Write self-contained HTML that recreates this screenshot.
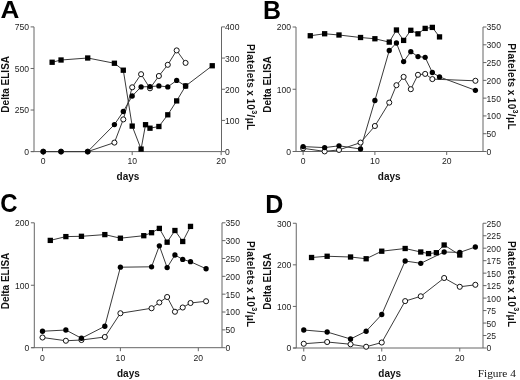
<!DOCTYPE html>
<html><head><meta charset="utf-8"><title>Figure 4</title>
<style>
html,body{margin:0;padding:0;background:#fff;}
body{width:520px;height:380px;overflow:hidden;font-family:"Liberation Sans",sans-serif;}
svg{display:block;filter:grayscale(1);}
</style></head><body>
<svg width="520" height="380" viewBox="0 0 520 380">
<rect width="520" height="380" fill="#fff"/>
<line x1="34" y1="26.9" x2="34" y2="151.6" stroke="#666666" stroke-width="1"/>
<line x1="221.5" y1="26.9" x2="221.5" y2="151.6" stroke="#666666" stroke-width="1"/>
<line x1="31" y1="151.6" x2="221.5" y2="151.6" stroke="#666666" stroke-width="1"/>
<line x1="30.6" y1="151.6" x2="34" y2="151.6" stroke="#666666" stroke-width="1"/>
<text x="29" y="155.05" font-size="8.6" text-anchor="end" font-weight="normal" fill="#1c1c1c" font-family="Liberation Sans, sans-serif">0</text>
<line x1="30.6" y1="110.03" x2="34" y2="110.03" stroke="#666666" stroke-width="1"/>
<text x="29" y="113.48" font-size="8.6" text-anchor="end" font-weight="normal" fill="#1c1c1c" font-family="Liberation Sans, sans-serif">250</text>
<line x1="30.6" y1="68.47" x2="34" y2="68.47" stroke="#666666" stroke-width="1"/>
<text x="29" y="71.92" font-size="8.6" text-anchor="end" font-weight="normal" fill="#1c1c1c" font-family="Liberation Sans, sans-serif">500</text>
<line x1="30.6" y1="26.9" x2="34" y2="26.9" stroke="#666666" stroke-width="1"/>
<text x="29" y="30.35" font-size="8.6" text-anchor="end" font-weight="normal" fill="#1c1c1c" font-family="Liberation Sans, sans-serif">750</text>
<line x1="221.5" y1="151.6" x2="225" y2="151.6" stroke="#666666" stroke-width="1"/>
<text x="225.1" y="155.05" font-size="8.6" text-anchor="start" font-weight="normal" fill="#1c1c1c" font-family="Liberation Sans, sans-serif">0</text>
<line x1="221.5" y1="120.42" x2="225" y2="120.42" stroke="#666666" stroke-width="1"/>
<text x="225.1" y="123.88" font-size="8.6" text-anchor="start" font-weight="normal" fill="#1c1c1c" font-family="Liberation Sans, sans-serif">100</text>
<line x1="221.5" y1="89.25" x2="225" y2="89.25" stroke="#666666" stroke-width="1"/>
<text x="225.1" y="92.7" font-size="8.6" text-anchor="start" font-weight="normal" fill="#1c1c1c" font-family="Liberation Sans, sans-serif">200</text>
<line x1="221.5" y1="58.07" x2="225" y2="58.07" stroke="#666666" stroke-width="1"/>
<text x="225.1" y="61.52" font-size="8.6" text-anchor="start" font-weight="normal" fill="#1c1c1c" font-family="Liberation Sans, sans-serif">300</text>
<line x1="221.5" y1="26.9" x2="225" y2="26.9" stroke="#666666" stroke-width="1"/>
<text x="225.1" y="30.35" font-size="8.6" text-anchor="start" font-weight="normal" fill="#1c1c1c" font-family="Liberation Sans, sans-serif">400</text>
<line x1="43.25" y1="151.6" x2="43.25" y2="155.1" stroke="#666666" stroke-width="1"/>
<text x="43.25" y="163.8" font-size="8.6" text-anchor="middle" font-weight="normal" fill="#1c1c1c" font-family="Liberation Sans, sans-serif">0</text>
<line x1="132.2" y1="151.6" x2="132.2" y2="155.1" stroke="#666666" stroke-width="1"/>
<text x="132.2" y="163.8" font-size="8.6" text-anchor="middle" font-weight="normal" fill="#1c1c1c" font-family="Liberation Sans, sans-serif">10</text>
<line x1="221.15" y1="151.6" x2="221.15" y2="155.1" stroke="#666666" stroke-width="1"/>
<text x="221.15" y="163.8" font-size="8.6" text-anchor="middle" font-weight="normal" fill="#1c1c1c" font-family="Liberation Sans, sans-serif">20</text>
<text x="9.2" y="84.3" font-size="10" text-anchor="middle" font-weight="bold" fill="#111" font-family="Liberation Sans, sans-serif" transform="rotate(-90 9.2 84.3)">Delta ELISA</text>
<text x="246.6" y="87.3" font-size="10" letter-spacing="0.33" word-spacing="-0.9" text-anchor="middle" font-weight="bold" fill="#111" font-family="Liberation Sans, sans-serif" transform="rotate(90 246.6 87.3)">Platelets x 10<tspan font-size="7.2" dy="-5.2">3</tspan><tspan dy="5.2">/&#956;L</tspan></text>
<text x="128" y="180.3" font-size="10" text-anchor="middle" font-weight="bold" fill="#111" font-family="Liberation Sans, sans-serif">days</text>
<text x="0" y="0" font-size="24.4" text-anchor="start" font-weight="bold" fill="#000" font-family="Liberation Sans, sans-serif" transform="translate(0.45 17.7) scale(1.07 1)">A</text>
<polyline points="43.25,151.6 61.04,151.6 87.72,151.6 114.41,142.6 123.3,119.4 132.2,87.3 141.09,74.2 149.99,88.3 158.88,76 167.78,64.8 176.67,50.4 185.57,62.9" fill="none" stroke="#3a3a3a" stroke-width="1" stroke-linejoin="round"/>
<polyline points="43.25,151.6 61.04,151.6 87.72,151.6 114.41,124.6 123.3,111.5 132.2,96 141.09,86.9 149.99,86.6 158.88,85.9 167.78,86.9 176.67,80.4 185.57,86" fill="none" stroke="#3a3a3a" stroke-width="1" stroke-linejoin="round"/>
<polyline points="52.14,62.25 61.04,60 87.72,58 114.41,63.25 123.3,70.2 132.2,126.1 141.09,149.1 145.54,124.7 149.99,128.2 158.88,126.5 167.78,114.8 176.67,100.9 185.57,86 212.25,65.75" fill="none" stroke="#3a3a3a" stroke-width="1" stroke-linejoin="round"/>
<circle cx="43.25" cy="151.6" r="2.55" fill="#fff" stroke="#111" stroke-width="1"/>
<circle cx="61.04" cy="151.6" r="2.55" fill="#fff" stroke="#111" stroke-width="1"/>
<circle cx="87.72" cy="151.6" r="2.55" fill="#fff" stroke="#111" stroke-width="1"/>
<circle cx="114.41" cy="142.6" r="2.55" fill="#fff" stroke="#111" stroke-width="1"/>
<circle cx="123.3" cy="119.4" r="2.55" fill="#fff" stroke="#111" stroke-width="1"/>
<circle cx="132.2" cy="87.3" r="2.55" fill="#fff" stroke="#111" stroke-width="1"/>
<circle cx="141.09" cy="74.2" r="2.55" fill="#fff" stroke="#111" stroke-width="1"/>
<circle cx="149.99" cy="88.3" r="2.55" fill="#fff" stroke="#111" stroke-width="1"/>
<circle cx="158.88" cy="76" r="2.55" fill="#fff" stroke="#111" stroke-width="1"/>
<circle cx="167.78" cy="64.8" r="2.55" fill="#fff" stroke="#111" stroke-width="1"/>
<circle cx="176.67" cy="50.4" r="2.55" fill="#fff" stroke="#111" stroke-width="1"/>
<circle cx="185.57" cy="62.9" r="2.55" fill="#fff" stroke="#111" stroke-width="1"/>
<circle cx="43.25" cy="151.6" r="2.65" fill="#000"/>
<circle cx="61.04" cy="151.6" r="2.65" fill="#000"/>
<circle cx="87.72" cy="151.6" r="2.65" fill="#000"/>
<circle cx="114.41" cy="124.6" r="2.65" fill="#000"/>
<circle cx="123.3" cy="111.5" r="2.65" fill="#000"/>
<circle cx="132.2" cy="96" r="2.65" fill="#000"/>
<circle cx="141.09" cy="86.9" r="2.65" fill="#000"/>
<circle cx="149.99" cy="86.6" r="2.65" fill="#000"/>
<circle cx="158.88" cy="85.9" r="2.65" fill="#000"/>
<circle cx="167.78" cy="86.9" r="2.65" fill="#000"/>
<circle cx="176.67" cy="80.4" r="2.65" fill="#000"/>
<circle cx="185.57" cy="86" r="2.65" fill="#000"/>
<rect x="49.49" y="59.6" width="5.3" height="5.3" fill="#000"/>
<rect x="58.39" y="57.35" width="5.3" height="5.3" fill="#000"/>
<rect x="85.07" y="55.35" width="5.3" height="5.3" fill="#000"/>
<rect x="111.76" y="60.6" width="5.3" height="5.3" fill="#000"/>
<rect x="120.65" y="67.55" width="5.3" height="5.3" fill="#000"/>
<rect x="129.55" y="123.45" width="5.3" height="5.3" fill="#000"/>
<rect x="138.44" y="146.45" width="5.3" height="5.3" fill="#000"/>
<rect x="142.89" y="122.05" width="5.3" height="5.3" fill="#000"/>
<rect x="147.34" y="125.55" width="5.3" height="5.3" fill="#000"/>
<rect x="156.23" y="123.85" width="5.3" height="5.3" fill="#000"/>
<rect x="165.13" y="112.15" width="5.3" height="5.3" fill="#000"/>
<rect x="174.02" y="98.25" width="5.3" height="5.3" fill="#000"/>
<rect x="182.92" y="83.35" width="5.3" height="5.3" fill="#000"/>
<rect x="209.6" y="63.1" width="5.3" height="5.3" fill="#000"/>
<line x1="296" y1="27" x2="296" y2="151.5" stroke="#666666" stroke-width="1"/>
<line x1="483" y1="27" x2="483" y2="151.5" stroke="#666666" stroke-width="1"/>
<line x1="293" y1="151.5" x2="483" y2="151.5" stroke="#666666" stroke-width="1"/>
<line x1="292.6" y1="151.5" x2="296" y2="151.5" stroke="#666666" stroke-width="1"/>
<text x="291" y="154.95" font-size="8.6" text-anchor="end" font-weight="normal" fill="#1c1c1c" font-family="Liberation Sans, sans-serif">0</text>
<line x1="292.6" y1="89.25" x2="296" y2="89.25" stroke="#666666" stroke-width="1"/>
<text x="291" y="92.7" font-size="8.6" text-anchor="end" font-weight="normal" fill="#1c1c1c" font-family="Liberation Sans, sans-serif">100</text>
<line x1="292.6" y1="27" x2="296" y2="27" stroke="#666666" stroke-width="1"/>
<text x="291" y="30.45" font-size="8.6" text-anchor="end" font-weight="normal" fill="#1c1c1c" font-family="Liberation Sans, sans-serif">200</text>
<line x1="483" y1="151.5" x2="486.5" y2="151.5" stroke="#666666" stroke-width="1"/>
<text x="486.6" y="154.95" font-size="8.6" text-anchor="start" font-weight="normal" fill="#1c1c1c" font-family="Liberation Sans, sans-serif">0</text>
<line x1="483" y1="133.71" x2="486.5" y2="133.71" stroke="#666666" stroke-width="1"/>
<text x="486.6" y="137.16" font-size="8.6" text-anchor="start" font-weight="normal" fill="#1c1c1c" font-family="Liberation Sans, sans-serif">50</text>
<line x1="483" y1="115.93" x2="486.5" y2="115.93" stroke="#666666" stroke-width="1"/>
<text x="486.6" y="119.38" font-size="8.6" text-anchor="start" font-weight="normal" fill="#1c1c1c" font-family="Liberation Sans, sans-serif">100</text>
<line x1="483" y1="98.14" x2="486.5" y2="98.14" stroke="#666666" stroke-width="1"/>
<text x="486.6" y="101.59" font-size="8.6" text-anchor="start" font-weight="normal" fill="#1c1c1c" font-family="Liberation Sans, sans-serif">150</text>
<line x1="483" y1="80.36" x2="486.5" y2="80.36" stroke="#666666" stroke-width="1"/>
<text x="486.6" y="83.81" font-size="8.6" text-anchor="start" font-weight="normal" fill="#1c1c1c" font-family="Liberation Sans, sans-serif">200</text>
<line x1="483" y1="62.57" x2="486.5" y2="62.57" stroke="#666666" stroke-width="1"/>
<text x="486.6" y="66.02" font-size="8.6" text-anchor="start" font-weight="normal" fill="#1c1c1c" font-family="Liberation Sans, sans-serif">250</text>
<line x1="483" y1="44.79" x2="486.5" y2="44.79" stroke="#666666" stroke-width="1"/>
<text x="486.6" y="48.24" font-size="8.6" text-anchor="start" font-weight="normal" fill="#1c1c1c" font-family="Liberation Sans, sans-serif">300</text>
<line x1="483" y1="27" x2="486.5" y2="27" stroke="#666666" stroke-width="1"/>
<text x="486.6" y="30.45" font-size="8.6" text-anchor="start" font-weight="normal" fill="#1c1c1c" font-family="Liberation Sans, sans-serif">350</text>
<line x1="303.1" y1="151.5" x2="303.1" y2="155" stroke="#666666" stroke-width="1"/>
<text x="303.1" y="163.7" font-size="8.6" text-anchor="middle" font-weight="normal" fill="#1c1c1c" font-family="Liberation Sans, sans-serif">0</text>
<line x1="374.9" y1="151.5" x2="374.9" y2="155" stroke="#666666" stroke-width="1"/>
<text x="374.9" y="163.7" font-size="8.6" text-anchor="middle" font-weight="normal" fill="#1c1c1c" font-family="Liberation Sans, sans-serif">10</text>
<line x1="446.7" y1="151.5" x2="446.7" y2="155" stroke="#666666" stroke-width="1"/>
<text x="446.7" y="163.7" font-size="8.6" text-anchor="middle" font-weight="normal" fill="#1c1c1c" font-family="Liberation Sans, sans-serif">20</text>
<text x="271" y="84.5" font-size="10" text-anchor="middle" font-weight="bold" fill="#111" font-family="Liberation Sans, sans-serif" transform="rotate(-90 271 84.5)">Delta ELISA</text>
<text x="508" y="86.6" font-size="10" letter-spacing="0.33" word-spacing="-0.9" text-anchor="middle" font-weight="bold" fill="#111" font-family="Liberation Sans, sans-serif" transform="rotate(90 508 86.6)">Platelets x 10<tspan font-size="7.2" dy="-5.2">3</tspan><tspan dy="5.2">/&#956;L</tspan></text>
<text x="389.2" y="180.4" font-size="10" text-anchor="middle" font-weight="bold" fill="#111" font-family="Liberation Sans, sans-serif">days</text>
<text x="0" y="0" font-size="24.9" text-anchor="start" font-weight="bold" fill="#000" font-family="Liberation Sans, sans-serif" transform="translate(263 18.7) scale(1 1)">B</text>
<polyline points="303.1,148.3 324.64,151.4 339,149.9 360.54,142.6 374.9,126 389.26,102.6 396.44,85.2 403.62,76.9 410.8,89.2 417.98,74.8 425.16,73.9 432.34,79.1 475.42,80.8" fill="none" stroke="#3a3a3a" stroke-width="1" stroke-linejoin="round"/>
<polyline points="303.1,146.6 324.64,147.6 339,145.8 360.54,149 374.9,100.5 389.26,50.5 396.44,43 403.62,61.6 410.8,51.7 417.98,56.6 425.16,57.3 432.34,72.5 439.52,76.9 475.42,90.3" fill="none" stroke="#3a3a3a" stroke-width="1" stroke-linejoin="round"/>
<polyline points="310.28,35.75 324.64,33.75 339,35 360.54,37.5 374.9,38.75 389.26,42.1 396.44,30 403.62,40.4 410.8,30.3 417.98,33.8 425.16,28.4 432.34,27.4 439.52,36.9" fill="none" stroke="#3a3a3a" stroke-width="1" stroke-linejoin="round"/>
<circle cx="303.1" cy="148.3" r="2.55" fill="#fff" stroke="#111" stroke-width="1"/>
<circle cx="324.64" cy="151.4" r="2.55" fill="#fff" stroke="#111" stroke-width="1"/>
<circle cx="339" cy="149.9" r="2.55" fill="#fff" stroke="#111" stroke-width="1"/>
<circle cx="360.54" cy="142.6" r="2.55" fill="#fff" stroke="#111" stroke-width="1"/>
<circle cx="374.9" cy="126" r="2.55" fill="#fff" stroke="#111" stroke-width="1"/>
<circle cx="389.26" cy="102.6" r="2.55" fill="#fff" stroke="#111" stroke-width="1"/>
<circle cx="396.44" cy="85.2" r="2.55" fill="#fff" stroke="#111" stroke-width="1"/>
<circle cx="403.62" cy="76.9" r="2.55" fill="#fff" stroke="#111" stroke-width="1"/>
<circle cx="410.8" cy="89.2" r="2.55" fill="#fff" stroke="#111" stroke-width="1"/>
<circle cx="417.98" cy="74.8" r="2.55" fill="#fff" stroke="#111" stroke-width="1"/>
<circle cx="425.16" cy="73.9" r="2.55" fill="#fff" stroke="#111" stroke-width="1"/>
<circle cx="432.34" cy="79.1" r="2.55" fill="#fff" stroke="#111" stroke-width="1"/>
<circle cx="475.42" cy="80.8" r="2.55" fill="#fff" stroke="#111" stroke-width="1"/>
<circle cx="303.1" cy="146.6" r="2.65" fill="#000"/>
<circle cx="324.64" cy="147.6" r="2.65" fill="#000"/>
<circle cx="339" cy="145.8" r="2.65" fill="#000"/>
<circle cx="360.54" cy="149" r="2.65" fill="#000"/>
<circle cx="374.9" cy="100.5" r="2.65" fill="#000"/>
<circle cx="389.26" cy="50.5" r="2.65" fill="#000"/>
<circle cx="396.44" cy="43" r="2.65" fill="#000"/>
<circle cx="403.62" cy="61.6" r="2.65" fill="#000"/>
<circle cx="410.8" cy="51.7" r="2.65" fill="#000"/>
<circle cx="417.98" cy="56.6" r="2.65" fill="#000"/>
<circle cx="425.16" cy="57.3" r="2.65" fill="#000"/>
<circle cx="432.34" cy="72.5" r="2.65" fill="#000"/>
<circle cx="439.52" cy="76.9" r="2.65" fill="#000"/>
<circle cx="475.42" cy="90.3" r="2.65" fill="#000"/>
<rect x="307.63" y="33.1" width="5.3" height="5.3" fill="#000"/>
<rect x="321.99" y="31.1" width="5.3" height="5.3" fill="#000"/>
<rect x="336.35" y="32.35" width="5.3" height="5.3" fill="#000"/>
<rect x="357.89" y="34.85" width="5.3" height="5.3" fill="#000"/>
<rect x="372.25" y="36.1" width="5.3" height="5.3" fill="#000"/>
<rect x="386.61" y="39.45" width="5.3" height="5.3" fill="#000"/>
<rect x="393.79" y="27.35" width="5.3" height="5.3" fill="#000"/>
<rect x="400.97" y="37.75" width="5.3" height="5.3" fill="#000"/>
<rect x="408.15" y="27.65" width="5.3" height="5.3" fill="#000"/>
<rect x="415.33" y="31.15" width="5.3" height="5.3" fill="#000"/>
<rect x="422.51" y="25.75" width="5.3" height="5.3" fill="#000"/>
<rect x="429.69" y="24.75" width="5.3" height="5.3" fill="#000"/>
<rect x="436.87" y="34.25" width="5.3" height="5.3" fill="#000"/>
<line x1="34.3" y1="222.8" x2="34.3" y2="347.7" stroke="#666666" stroke-width="1"/>
<line x1="222" y1="222.8" x2="222" y2="347.7" stroke="#666666" stroke-width="1"/>
<line x1="31.3" y1="347.7" x2="222" y2="347.7" stroke="#666666" stroke-width="1"/>
<line x1="30.9" y1="347.7" x2="34.3" y2="347.7" stroke="#666666" stroke-width="1"/>
<text x="29.3" y="351.15" font-size="8.6" text-anchor="end" font-weight="normal" fill="#1c1c1c" font-family="Liberation Sans, sans-serif">0</text>
<line x1="30.9" y1="285.25" x2="34.3" y2="285.25" stroke="#666666" stroke-width="1"/>
<text x="29.3" y="288.7" font-size="8.6" text-anchor="end" font-weight="normal" fill="#1c1c1c" font-family="Liberation Sans, sans-serif">100</text>
<line x1="30.9" y1="222.8" x2="34.3" y2="222.8" stroke="#666666" stroke-width="1"/>
<text x="29.3" y="226.25" font-size="8.6" text-anchor="end" font-weight="normal" fill="#1c1c1c" font-family="Liberation Sans, sans-serif">200</text>
<line x1="222" y1="347.7" x2="225.5" y2="347.7" stroke="#666666" stroke-width="1"/>
<text x="225.6" y="351.15" font-size="8.6" text-anchor="start" font-weight="normal" fill="#1c1c1c" font-family="Liberation Sans, sans-serif">0</text>
<line x1="222" y1="329.86" x2="225.5" y2="329.86" stroke="#666666" stroke-width="1"/>
<text x="225.6" y="333.31" font-size="8.6" text-anchor="start" font-weight="normal" fill="#1c1c1c" font-family="Liberation Sans, sans-serif">50</text>
<line x1="222" y1="312.01" x2="225.5" y2="312.01" stroke="#666666" stroke-width="1"/>
<text x="225.6" y="315.46" font-size="8.6" text-anchor="start" font-weight="normal" fill="#1c1c1c" font-family="Liberation Sans, sans-serif">100</text>
<line x1="222" y1="294.17" x2="225.5" y2="294.17" stroke="#666666" stroke-width="1"/>
<text x="225.6" y="297.62" font-size="8.6" text-anchor="start" font-weight="normal" fill="#1c1c1c" font-family="Liberation Sans, sans-serif">150</text>
<line x1="222" y1="276.33" x2="225.5" y2="276.33" stroke="#666666" stroke-width="1"/>
<text x="225.6" y="279.78" font-size="8.6" text-anchor="start" font-weight="normal" fill="#1c1c1c" font-family="Liberation Sans, sans-serif">200</text>
<line x1="222" y1="258.49" x2="225.5" y2="258.49" stroke="#666666" stroke-width="1"/>
<text x="225.6" y="261.94" font-size="8.6" text-anchor="start" font-weight="normal" fill="#1c1c1c" font-family="Liberation Sans, sans-serif">250</text>
<line x1="222" y1="240.64" x2="225.5" y2="240.64" stroke="#666666" stroke-width="1"/>
<text x="225.6" y="244.09" font-size="8.6" text-anchor="start" font-weight="normal" fill="#1c1c1c" font-family="Liberation Sans, sans-serif">300</text>
<line x1="222" y1="222.8" x2="225.5" y2="222.8" stroke="#666666" stroke-width="1"/>
<text x="225.6" y="226.25" font-size="8.6" text-anchor="start" font-weight="normal" fill="#1c1c1c" font-family="Liberation Sans, sans-serif">350</text>
<line x1="42.5" y1="347.7" x2="42.5" y2="351.2" stroke="#666666" stroke-width="1"/>
<text x="42.5" y="360.8" font-size="8.6" text-anchor="middle" font-weight="normal" fill="#1c1c1c" font-family="Liberation Sans, sans-serif">0</text>
<line x1="120.4" y1="347.7" x2="120.4" y2="351.2" stroke="#666666" stroke-width="1"/>
<text x="120.4" y="360.8" font-size="8.6" text-anchor="middle" font-weight="normal" fill="#1c1c1c" font-family="Liberation Sans, sans-serif">10</text>
<line x1="198.3" y1="347.7" x2="198.3" y2="351.2" stroke="#666666" stroke-width="1"/>
<text x="198.3" y="360.8" font-size="8.6" text-anchor="middle" font-weight="normal" fill="#1c1c1c" font-family="Liberation Sans, sans-serif">20</text>
<text x="9.2" y="281" font-size="10" text-anchor="middle" font-weight="bold" fill="#111" font-family="Liberation Sans, sans-serif" transform="rotate(-90 9.2 281)">Delta ELISA</text>
<text x="246.6" y="284.3" font-size="10" letter-spacing="0.33" word-spacing="-0.9" text-anchor="middle" font-weight="bold" fill="#111" font-family="Liberation Sans, sans-serif" transform="rotate(90 246.6 284.3)">Platelets x 10<tspan font-size="7.2" dy="-5.2">3</tspan><tspan dy="5.2">/&#956;L</tspan></text>
<text x="128.4" y="377" font-size="10" text-anchor="middle" font-weight="bold" fill="#111" font-family="Liberation Sans, sans-serif">days</text>
<text x="0" y="0" font-size="25.2" text-anchor="start" font-weight="bold" fill="#000" font-family="Liberation Sans, sans-serif" transform="translate(0.2 211.6) scale(0.95 1)">C</text>
<polyline points="42.5,337.5 65.87,340.75 81.45,340 104.82,337 120.4,313.25 151.56,308.25 159.35,302.5 167.14,297 174.93,311.75 182.72,307.5 190.51,303 206.09,301.25" fill="none" stroke="#3a3a3a" stroke-width="1" stroke-linejoin="round"/>
<polyline points="42.5,331.25 65.87,330 81.45,338.25 104.82,326.25 120.4,267.2 151.56,266.8 159.35,245.8 167.14,267.6 174.93,255 182.72,259.4 190.51,261.7 206.09,268.75" fill="none" stroke="#3a3a3a" stroke-width="1" stroke-linejoin="round"/>
<polyline points="50.29,240.4 65.87,236.6 81.45,236.3 104.82,234.6 120.4,238.2 143.77,235.7 151.56,232.7 159.35,228.4 167.14,242.2 174.93,230.5 182.72,241.5 190.51,226.4" fill="none" stroke="#3a3a3a" stroke-width="1" stroke-linejoin="round"/>
<circle cx="42.5" cy="337.5" r="2.55" fill="#fff" stroke="#111" stroke-width="1"/>
<circle cx="65.87" cy="340.75" r="2.55" fill="#fff" stroke="#111" stroke-width="1"/>
<circle cx="81.45" cy="340" r="2.55" fill="#fff" stroke="#111" stroke-width="1"/>
<circle cx="104.82" cy="337" r="2.55" fill="#fff" stroke="#111" stroke-width="1"/>
<circle cx="120.4" cy="313.25" r="2.55" fill="#fff" stroke="#111" stroke-width="1"/>
<circle cx="151.56" cy="308.25" r="2.55" fill="#fff" stroke="#111" stroke-width="1"/>
<circle cx="159.35" cy="302.5" r="2.55" fill="#fff" stroke="#111" stroke-width="1"/>
<circle cx="167.14" cy="297" r="2.55" fill="#fff" stroke="#111" stroke-width="1"/>
<circle cx="174.93" cy="311.75" r="2.55" fill="#fff" stroke="#111" stroke-width="1"/>
<circle cx="182.72" cy="307.5" r="2.55" fill="#fff" stroke="#111" stroke-width="1"/>
<circle cx="190.51" cy="303" r="2.55" fill="#fff" stroke="#111" stroke-width="1"/>
<circle cx="206.09" cy="301.25" r="2.55" fill="#fff" stroke="#111" stroke-width="1"/>
<circle cx="42.5" cy="331.25" r="2.65" fill="#000"/>
<circle cx="65.87" cy="330" r="2.65" fill="#000"/>
<circle cx="81.45" cy="338.25" r="2.65" fill="#000"/>
<circle cx="104.82" cy="326.25" r="2.65" fill="#000"/>
<circle cx="120.4" cy="267.2" r="2.65" fill="#000"/>
<circle cx="151.56" cy="266.8" r="2.65" fill="#000"/>
<circle cx="159.35" cy="245.8" r="2.65" fill="#000"/>
<circle cx="167.14" cy="267.6" r="2.65" fill="#000"/>
<circle cx="174.93" cy="255" r="2.65" fill="#000"/>
<circle cx="182.72" cy="259.4" r="2.65" fill="#000"/>
<circle cx="190.51" cy="261.7" r="2.65" fill="#000"/>
<circle cx="206.09" cy="268.75" r="2.65" fill="#000"/>
<rect x="47.64" y="237.75" width="5.3" height="5.3" fill="#000"/>
<rect x="63.22" y="233.95" width="5.3" height="5.3" fill="#000"/>
<rect x="78.8" y="233.65" width="5.3" height="5.3" fill="#000"/>
<rect x="102.17" y="231.95" width="5.3" height="5.3" fill="#000"/>
<rect x="117.75" y="235.55" width="5.3" height="5.3" fill="#000"/>
<rect x="141.12" y="233.05" width="5.3" height="5.3" fill="#000"/>
<rect x="148.91" y="230.05" width="5.3" height="5.3" fill="#000"/>
<rect x="156.7" y="225.75" width="5.3" height="5.3" fill="#000"/>
<rect x="164.49" y="239.55" width="5.3" height="5.3" fill="#000"/>
<rect x="172.28" y="227.85" width="5.3" height="5.3" fill="#000"/>
<rect x="180.07" y="238.85" width="5.3" height="5.3" fill="#000"/>
<rect x="187.86" y="223.75" width="5.3" height="5.3" fill="#000"/>
<line x1="296.25" y1="223.25" x2="296.25" y2="348" stroke="#666666" stroke-width="1"/>
<line x1="483" y1="223.25" x2="483" y2="348" stroke="#666666" stroke-width="1"/>
<line x1="293.25" y1="348" x2="483" y2="348" stroke="#666666" stroke-width="1"/>
<line x1="292.85" y1="348" x2="296.25" y2="348" stroke="#666666" stroke-width="1"/>
<text x="291.25" y="351.45" font-size="8.6" text-anchor="end" font-weight="normal" fill="#1c1c1c" font-family="Liberation Sans, sans-serif">0</text>
<line x1="292.85" y1="306.42" x2="296.25" y2="306.42" stroke="#666666" stroke-width="1"/>
<text x="291.25" y="309.87" font-size="8.6" text-anchor="end" font-weight="normal" fill="#1c1c1c" font-family="Liberation Sans, sans-serif">100</text>
<line x1="292.85" y1="264.83" x2="296.25" y2="264.83" stroke="#666666" stroke-width="1"/>
<text x="291.25" y="268.28" font-size="8.6" text-anchor="end" font-weight="normal" fill="#1c1c1c" font-family="Liberation Sans, sans-serif">200</text>
<line x1="292.85" y1="223.25" x2="296.25" y2="223.25" stroke="#666666" stroke-width="1"/>
<text x="291.25" y="226.7" font-size="8.6" text-anchor="end" font-weight="normal" fill="#1c1c1c" font-family="Liberation Sans, sans-serif">300</text>
<line x1="483" y1="348" x2="486.5" y2="348" stroke="#666666" stroke-width="1"/>
<text x="486.6" y="351.45" font-size="8.6" text-anchor="start" font-weight="normal" fill="#1c1c1c" font-family="Liberation Sans, sans-serif">0</text>
<line x1="483" y1="335.52" x2="486.5" y2="335.52" stroke="#666666" stroke-width="1"/>
<text x="486.6" y="338.97" font-size="8.6" text-anchor="start" font-weight="normal" fill="#1c1c1c" font-family="Liberation Sans, sans-serif">25</text>
<line x1="483" y1="323.05" x2="486.5" y2="323.05" stroke="#666666" stroke-width="1"/>
<text x="486.6" y="326.5" font-size="8.6" text-anchor="start" font-weight="normal" fill="#1c1c1c" font-family="Liberation Sans, sans-serif">50</text>
<line x1="483" y1="310.57" x2="486.5" y2="310.57" stroke="#666666" stroke-width="1"/>
<text x="486.6" y="314.02" font-size="8.6" text-anchor="start" font-weight="normal" fill="#1c1c1c" font-family="Liberation Sans, sans-serif">75</text>
<line x1="483" y1="298.1" x2="486.5" y2="298.1" stroke="#666666" stroke-width="1"/>
<text x="486.6" y="301.55" font-size="8.6" text-anchor="start" font-weight="normal" fill="#1c1c1c" font-family="Liberation Sans, sans-serif">100</text>
<line x1="483" y1="285.62" x2="486.5" y2="285.62" stroke="#666666" stroke-width="1"/>
<text x="486.6" y="289.07" font-size="8.6" text-anchor="start" font-weight="normal" fill="#1c1c1c" font-family="Liberation Sans, sans-serif">125</text>
<line x1="483" y1="273.15" x2="486.5" y2="273.15" stroke="#666666" stroke-width="1"/>
<text x="486.6" y="276.6" font-size="8.6" text-anchor="start" font-weight="normal" fill="#1c1c1c" font-family="Liberation Sans, sans-serif">150</text>
<line x1="483" y1="260.68" x2="486.5" y2="260.68" stroke="#666666" stroke-width="1"/>
<text x="486.6" y="264.12" font-size="8.6" text-anchor="start" font-weight="normal" fill="#1c1c1c" font-family="Liberation Sans, sans-serif">175</text>
<line x1="483" y1="248.2" x2="486.5" y2="248.2" stroke="#666666" stroke-width="1"/>
<text x="486.6" y="251.65" font-size="8.6" text-anchor="start" font-weight="normal" fill="#1c1c1c" font-family="Liberation Sans, sans-serif">200</text>
<line x1="483" y1="235.72" x2="486.5" y2="235.72" stroke="#666666" stroke-width="1"/>
<text x="486.6" y="239.17" font-size="8.6" text-anchor="start" font-weight="normal" fill="#1c1c1c" font-family="Liberation Sans, sans-serif">225</text>
<line x1="483" y1="223.25" x2="486.5" y2="223.25" stroke="#666666" stroke-width="1"/>
<text x="486.6" y="226.7" font-size="8.6" text-anchor="start" font-weight="normal" fill="#1c1c1c" font-family="Liberation Sans, sans-serif">250</text>
<line x1="303.75" y1="348" x2="303.75" y2="351.5" stroke="#666666" stroke-width="1"/>
<text x="303.75" y="360.9" font-size="8.6" text-anchor="middle" font-weight="normal" fill="#1c1c1c" font-family="Liberation Sans, sans-serif">0</text>
<line x1="381.75" y1="348" x2="381.75" y2="351.5" stroke="#666666" stroke-width="1"/>
<text x="381.75" y="360.9" font-size="8.6" text-anchor="middle" font-weight="normal" fill="#1c1c1c" font-family="Liberation Sans, sans-serif">10</text>
<line x1="459.75" y1="348" x2="459.75" y2="351.5" stroke="#666666" stroke-width="1"/>
<text x="459.75" y="360.9" font-size="8.6" text-anchor="middle" font-weight="normal" fill="#1c1c1c" font-family="Liberation Sans, sans-serif">20</text>
<text x="271" y="281.4" font-size="10" text-anchor="middle" font-weight="bold" fill="#111" font-family="Liberation Sans, sans-serif" transform="rotate(-90 271 281.4)">Delta ELISA</text>
<text x="508.3" y="284.2" font-size="10" letter-spacing="0.33" word-spacing="-0.9" text-anchor="middle" font-weight="bold" fill="#111" font-family="Liberation Sans, sans-serif" transform="rotate(90 508.3 284.2)">Platelets x 10<tspan font-size="7.2" dy="-5.2">3</tspan><tspan dy="5.2">/&#956;L</tspan></text>
<text x="389.7" y="377.4" font-size="10" text-anchor="middle" font-weight="bold" fill="#111" font-family="Liberation Sans, sans-serif">days</text>
<text x="0" y="0" font-size="25" text-anchor="start" font-weight="bold" fill="#000" font-family="Liberation Sans, sans-serif" transform="translate(265.3 212.8) scale(1 1)">D</text>
<polyline points="303.75,343.75 327.15,342 350.55,344.25 366.15,346.75 381.75,342.5 405.15,301.1 420.75,296.3 444.15,278 459.75,286.8 475.35,284.8" fill="none" stroke="#3a3a3a" stroke-width="1" stroke-linejoin="round"/>
<polyline points="303.75,330 327.15,332 350.55,339 366.15,331.25 381.75,314.5 405.15,261 420.75,263.3 444.15,252 459.75,252.4 475.35,247" fill="none" stroke="#3a3a3a" stroke-width="1" stroke-linejoin="round"/>
<polyline points="311.55,257.5 327.15,256.25 350.55,257 366.15,258.75 381.75,251.2 405.15,248.5 420.75,252 428.55,253.6 436.35,252.7 444.15,245 459.75,255" fill="none" stroke="#3a3a3a" stroke-width="1" stroke-linejoin="round"/>
<circle cx="303.75" cy="343.75" r="2.55" fill="#fff" stroke="#111" stroke-width="1"/>
<circle cx="327.15" cy="342" r="2.55" fill="#fff" stroke="#111" stroke-width="1"/>
<circle cx="350.55" cy="344.25" r="2.55" fill="#fff" stroke="#111" stroke-width="1"/>
<circle cx="366.15" cy="346.75" r="2.55" fill="#fff" stroke="#111" stroke-width="1"/>
<circle cx="381.75" cy="342.5" r="2.55" fill="#fff" stroke="#111" stroke-width="1"/>
<circle cx="405.15" cy="301.1" r="2.55" fill="#fff" stroke="#111" stroke-width="1"/>
<circle cx="420.75" cy="296.3" r="2.55" fill="#fff" stroke="#111" stroke-width="1"/>
<circle cx="444.15" cy="278" r="2.55" fill="#fff" stroke="#111" stroke-width="1"/>
<circle cx="459.75" cy="286.8" r="2.55" fill="#fff" stroke="#111" stroke-width="1"/>
<circle cx="475.35" cy="284.8" r="2.55" fill="#fff" stroke="#111" stroke-width="1"/>
<circle cx="303.75" cy="330" r="2.65" fill="#000"/>
<circle cx="327.15" cy="332" r="2.65" fill="#000"/>
<circle cx="350.55" cy="339" r="2.65" fill="#000"/>
<circle cx="366.15" cy="331.25" r="2.65" fill="#000"/>
<circle cx="381.75" cy="314.5" r="2.65" fill="#000"/>
<circle cx="405.15" cy="261" r="2.65" fill="#000"/>
<circle cx="420.75" cy="263.3" r="2.65" fill="#000"/>
<circle cx="444.15" cy="252" r="2.65" fill="#000"/>
<circle cx="459.75" cy="252.4" r="2.65" fill="#000"/>
<circle cx="475.35" cy="247" r="2.65" fill="#000"/>
<rect x="308.9" y="254.85" width="5.3" height="5.3" fill="#000"/>
<rect x="324.5" y="253.6" width="5.3" height="5.3" fill="#000"/>
<rect x="347.9" y="254.35" width="5.3" height="5.3" fill="#000"/>
<rect x="363.5" y="256.1" width="5.3" height="5.3" fill="#000"/>
<rect x="379.1" y="248.55" width="5.3" height="5.3" fill="#000"/>
<rect x="402.5" y="245.85" width="5.3" height="5.3" fill="#000"/>
<rect x="418.1" y="249.35" width="5.3" height="5.3" fill="#000"/>
<rect x="425.9" y="250.95" width="5.3" height="5.3" fill="#000"/>
<rect x="433.7" y="250.05" width="5.3" height="5.3" fill="#000"/>
<rect x="441.5" y="242.35" width="5.3" height="5.3" fill="#000"/>
<rect x="457.1" y="252.35" width="5.3" height="5.3" fill="#000"/>
<text x="477.7" y="376.5" font-size="11.35" text-anchor="start" font-weight="normal" fill="#111" font-family="Liberation Serif, serif">Figure 4</text>
</svg>
</body></html>
